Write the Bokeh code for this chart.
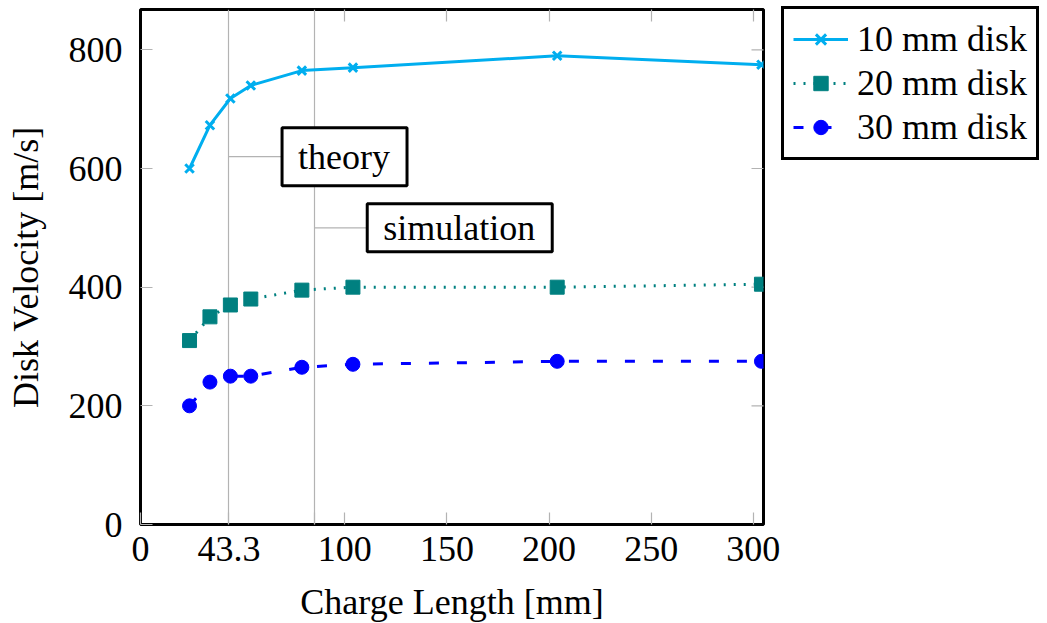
from bokeh.plotting import figure
from bokeh.models import (Range1d, FixedTicker, LinearAxis, Legend, LegendItem, Label)
from bokeh.embed import file_html
from bokeh.resources import INLINE

# ---- data ----
charge_length = [24, 34, 44, 54, 79, 104, 204, 304]
v_10mm = [600, 673, 718, 740, 765, 770, 790, 775]
v_20mm = [310, 350, 370, 380, 395, 400, 400, 405]
v_30mm = [200, 240, 250, 250, 265, 270, 275, 275]

x_ticks = [0, 43.3, 85, 100, 150, 200, 250, 300]
x_tick_labels = ["0", "43.3", "", "100", "150", "200", "250", "300"]
y_ticks = [0, 200, 400, 600, 800]
marked_x = [43.3, 85]
note_y = [620, 500]
note_text = ["theory", "simulation"]
note_vpad = [9, 4]

FONT = "Liberation Serif"
FS = "36px"
CYAN = "#00AEEF"
TEAL = "#008080"
BLUE = "#0000FF"
GRID = "#b3b3b3"
X_MAX, Y_MAX = 305, 868

p = figure(frame_width=623, frame_height=515, output_backend="svg", toolbar_location=None,
           x_range=Range1d(0, X_MAX), y_range=Range1d(0, Y_MAX),
           min_border_left=140, min_border_top=9, min_border_bottom=99, min_border_right=284,
           x_axis_label="Charge Length [mm]", y_axis_label="Disk Velocity [m/s]")
p.outline_line_color = "black"
p.outline_line_width = 3
p.background_fill_color = "white"
p.border_fill_color = "white"

# axes
p.xaxis.ticker = FixedTicker(ticks=x_ticks)
p.xaxis.major_label_overrides = {t: l for t, l in zip(x_ticks, x_tick_labels)}
p.yaxis.ticker = FixedTicker(ticks=y_ticks)
for ax in (p.xaxis[0], p.yaxis[0]):
    ax.axis_line_color = None
    ax.major_tick_in = 12
    ax.major_tick_out = 0
    ax.major_tick_line_color = GRID
    ax.major_tick_line_width = 1.2
    ax.minor_tick_line_color = None
    ax.major_label_text_font = FONT
    ax.major_label_text_font_size = FS
    ax.major_label_text_color = "black"
    ax.axis_label_text_font = FONT
    ax.axis_label_text_font_size = FS
    ax.axis_label_text_font_style = "normal"
    ax.axis_label_text_color = "black"
p.xaxis.major_label_standoff = 12
p.xaxis.axis_label_standoff = 18
p.yaxis.major_label_standoff = 18
p.yaxis.axis_label_standoff = 20

# mirrored ticks on top (no labels)
top_ticks = x_ticks[3:]
top = LinearAxis(ticker=FixedTicker(ticks=top_ticks),
                 major_label_overrides={t: "" for t in top_ticks},
                 major_label_standoff=0, axis_line_color=None, major_tick_in=12, major_tick_out=0,
                 major_tick_line_color=GRID, major_tick_line_width=1.2, minor_tick_line_color=None)
p.add_layout(top, "above")
# mirrored ticks on the right edge (half of a dash is clipped by the frame)
p.scatter(x=[X_MAX] * (len(y_ticks) - 1), y=y_ticks[1:], marker="dash", size=24,
          line_color=GRID, line_width=1.2)

p.ygrid.grid_line_color = None
p.xgrid.ticker = FixedTicker(ticks=marked_x)
p.xgrid.grid_line_color = GRID
p.xgrid.grid_line_width = 1.2

# annotations (pins)
pin_len = 26
for mx, ny, txt, vp in zip(marked_x, note_y, note_text, note_vpad):
    p.segment(x0=[mx], y0=[ny], x1=[mx + pin_len], y1=[ny], line_color=GRID, line_width=1.2)
    p.add_layout(Label(x=mx + pin_len, y=ny, text=txt, text_font=FONT, text_font_size=FS,
                       text_color="black", text_align="left", text_baseline="middle", x_offset=0,
                       border_line_color="black", border_line_width=3,
                       background_fill_color="white",
                       padding=dict(left=16, right=17, top=vp, bottom=vp)))

# series
l1 = p.line(charge_length, v_10mm, line_color=CYAN, line_width=3)
s1 = p.scatter(charge_length, v_10mm, marker="x", size=12, line_color=CYAN, line_width=3)
l2 = p.line(charge_length, v_20mm, line_color=TEAL, line_width=3, line_dash="2 8")
s2 = p.scatter(charge_length, v_20mm, marker="square", size=14, fill_color=TEAL, line_color=TEAL)
l3 = p.line(charge_length, v_30mm, line_color=BLUE, line_width=3, line_dash="10 18")
s3 = p.scatter(charge_length, v_30mm, marker="circle", size=14, fill_color=BLUE, line_color=BLUE)

legend = Legend(items=[LegendItem(label="10 mm disk", renderers=[l1, s1]),
                       LegendItem(label="20 mm disk", renderers=[l2, s2]),
                       LegendItem(label="30 mm disk", renderers=[l3, s3])],
                location=(18, 364))
legend.label_text_font = FONT
legend.label_text_font_size = FS
legend.label_text_color = "black"
legend.glyph_width = 55
legend.glyph_height = 36
legend.label_height = 36
legend.label_standoff = 9
legend.spacing = 2
legend.padding = 9
legend.margin = 0
legend.border_line_color = "black"
legend.border_line_alpha = 1.0
legend.border_line_width = 3
legend.background_fill_color = "white"
p.add_layout(legend, "right")

open("out.html", "w").write(file_html(p, INLINE))
